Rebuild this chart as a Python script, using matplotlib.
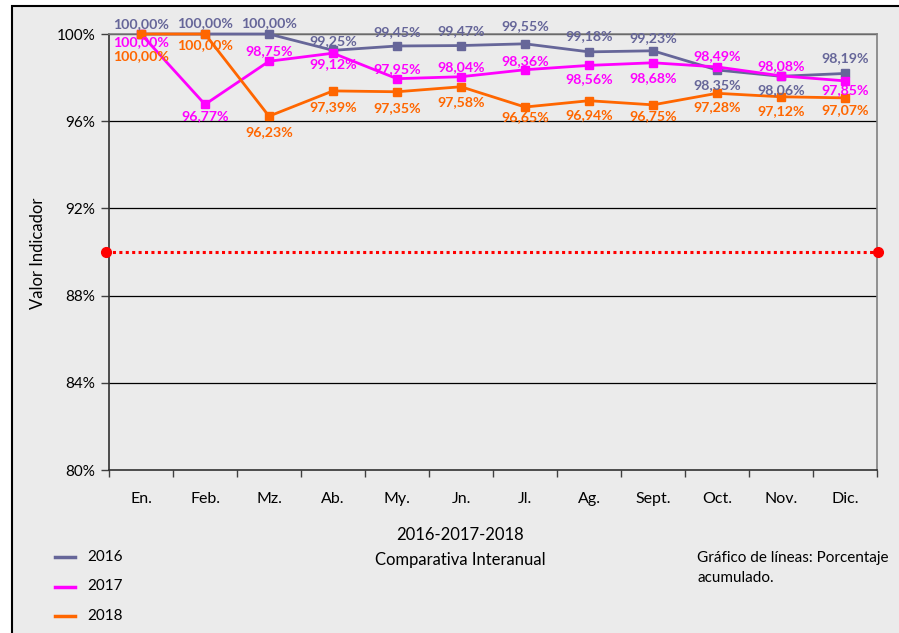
import matplotlib.pyplot as plt
from matplotlib.patches import Rectangle
from matplotlib.lines import Line2D

plt.rcParams['font.family'] = ['Lato', 'DejaVu Sans']

# --- datos ---
months = ['En.', 'Feb.', 'Mz.', 'Ab.', 'My.', 'Jn.', 'Jl.', 'Ag.', 'Sept.', 'Oct.', 'Nov.', 'Dic.']
vals_2016 = [100.00, 100.00, 100.00, 99.25, 99.45, 99.47, 99.55, 99.18, 99.23, 98.35, 98.06, 98.19]
vals_2017 = [100.00, 96.77, 98.75, 99.12, 97.95, 98.04, 98.36, 98.56, 98.68, 98.49, 98.08, 97.85]
vals_2018 = [100.00, 100.00, 96.23, 97.39, 97.35, 97.58, 96.65, 96.94, 96.75, 97.28, 97.12, 97.07]
target = 90.0
y_ticks = [80, 84, 88, 92, 96, 100]

# label offsets in pixels (positive = below the point)
offs_2016 = [-10, -11, -11, -9, -14, -14, -18, -16, -13, 15, 14, -15]
offs_2017 = [8, 12, -10, 11, -10, -10, -9, 14, 15, -11, -10, 9]
offs_2018 = [22, 11, 16, 16, 16, 15, 10, 14, 11, 14, 14, 12]

series = [
    ('2016', vals_2016, '#666699', offs_2016),
    ('2017', vals_2017, '#FF00FF', offs_2017),
    ('2018', vals_2018, '#FF6600', offs_2018),
]

W, H = 899, 633
fig = plt.figure(figsize=(W / 100, H / 100), dpi=100, facecolor='white')
bg = '#EBEBEB'

# outer chart frame
frame = Rectangle((12 / W, -0.1), 1.2, 1 - 6 / H + 0.1, transform=fig.transFigure,
                  facecolor=bg, edgecolor='black', linewidth=1.5, zorder=-10)
fig.add_artist(frame)

ax = fig.add_axes([109 / W, 1 - 470 / H, (877 - 109) / W, (470 - 34) / H])
ax.set_facecolor(bg)

x = list(range(len(months)))
for name, vals, col, offs in series:
    ax.plot(x, vals, color=col, lw=2, marker='s', ms=5.5, zorder=3, clip_on=False, label=name)
    for xi, v, o in zip(x, vals, offs):
        ax.annotate(f'{v:.2f}%'.replace('.', ','), (xi, v), xytext=(0, -o * 0.72),
                    textcoords='offset points', ha='center', va='center',
                    color=col, fontsize=10.2, fontweight='bold', zorder=4, annotation_clip=False)

# target line
ax.plot([-0.55, 11.52], [target, target], color='red', lw=2.2, ls=(0, (1, 1.1)), zorder=2, clip_on=False)
ax.plot([-0.55, 11.52], [target, target], color='red', lw=0, marker='o', ms=7, zorder=5, clip_on=False)

ax.set_xlim(-0.5, 11.5)
ax.set_ylim(80, 100)
ax.set_yticks(y_ticks)
ax.set_yticklabels([f'{t}%' for t in y_ticks], fontsize=11)
ax.set_xticks(x)
ax.set_xticklabels(months, fontsize=11.5)
ax.set_xticks([i - 0.5 for i in range(13)], minor=True)
ax.tick_params(axis='x', which='major', length=0, pad=16)
ax.tick_params(axis='x', which='minor', length=5, width=1, color='#404040')
ax.tick_params(axis='y', length=6, width=1, color='#404040', pad=4)

for t in y_ticks[1:]:
    ax.axhline(t, color='black', lw=0.9, zorder=1)

ax.spines['left'].set_color('#303030')
ax.spines['bottom'].set_color('#303030')
ax.spines['top'].set_color('#808080')
ax.spines['right'].set_color('#808080')
for s in ax.spines.values():
    s.set_linewidth(1.2)

fig.text(38 / W, 1 - 253 / H, 'Valor Indicador', rotation=90, ha='center', va='center', fontsize=12)
fig.text(460 / W, 1 - 535 / H, '2016-2017-2018', ha='center', va='center', fontsize=12)
fig.text(460 / W, 1 - 560 / H, 'Comparativa Interanual', ha='center', va='center', fontsize=12)
fig.text(697 / W, 1 - 558 / H, 'Gráfico de líneas: Porcentaje', ha='left', va='center', fontsize=11)
fig.text(697 / W, 1 - 578 / H, 'acumulado.', ha='left', va='center', fontsize=11)

# legend
for i, (name, vals, col, offs) in enumerate(series):
    yy = 1 - (557 + i * 29.5) / H
    fig.add_artist(Line2D([55 / W, 75 / W], [yy, yy], color=col, lw=2.5, transform=fig.transFigure))
    fig.text(87 / W, yy, name, ha='left', va='center', fontsize=11)

fig.savefig('out.png', dpi=100, facecolor='white')
